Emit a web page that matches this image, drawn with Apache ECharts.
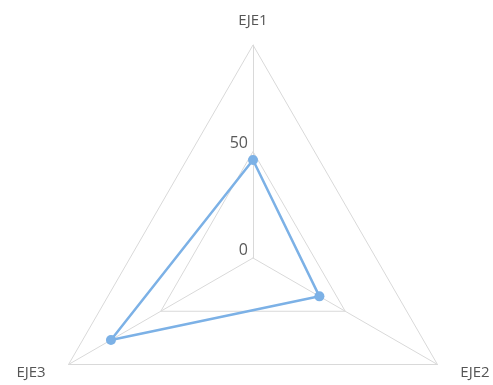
<!DOCTYPE html>
<html><head><meta charset="utf-8">
<script src="https://cdn.jsdelivr.net/npm/echarts@6/dist/echarts.min.js"></script>
<style>html,body{margin:0;padding:0;background:#fff}#c{width:493px;height:385px}</style>
</head><body><div id="c"></div>
<script>
// Order as ECharts draws them (counter-clockwise from top): EJE1, EJE3, EJE2
const axes = ['EJE1', 'EJE3', 'EJE2'];
const values = [46, 77, 36];
const maxValue = 100;

const chart = echarts.init(document.getElementById('c'));
chart.setOption({
  animation: false,
  radar: {
    center: [253, 258],
    radius: 213,
    shape: 'polygon',
    splitNumber: 2,
    startAngle: 90,
    indicator: axes.map((n, i) => ({
      name: n, max: maxValue, min: 0,
      axisLabel: { show: i === 0 }
    })),
    axisName: { color: '#555555', fontFamily: 'Open Sans', fontSize: 15, padding: [4, 9, 1, 9] },
    nameGap: 16,
    splitLine: { lineStyle: { color: '#d9d9d9', width: 1 } },
    splitArea: { show: false },
    axisLine: { lineStyle: { color: '#d9d9d9', width: 1 } },
    axisTick: { show: false },
    axisLabel: {
      show: false, color: '#595959', fontFamily: 'Open Sans', fontSize: 16,
      verticalAlign: 'bottom', margin: 5,
      showMaxLabel: false,
      formatter: v => v >= maxValue ? '' : String(v)
    }
  },
  series: [{
    type: 'radar',
    symbol: 'circle',
    symbolSize: 10,
    lineStyle: { color: '#7cb1e6', width: 2.5 },
    itemStyle: { color: '#7cb1e6' },
    data: [{ value: values }]
  }]
});
</script></body></html>
